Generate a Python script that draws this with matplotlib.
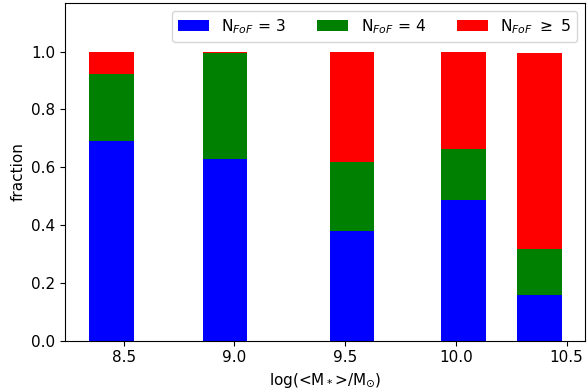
import matplotlib
matplotlib.use("Agg")
import matplotlib.pyplot as plt
import numpy as np

mass_bins = [8.445, 8.957, 9.53, 10.035, 10.377]
frac_n3 = [0.691, 0.629, 0.380, 0.488, 0.158]
frac_n4 = [0.232, 0.367, 0.238, 0.174, 0.159]
frac_n5 = [0.077, 0.004, 0.382, 0.338, 0.680]

labels = [r'N$_{FoF}$ = 3', r'N$_{FoF}$ = 4', r'N$_{FoF}$ $\geq$ 5']
colors = ['blue', 'green', 'red']

plt.rcParams['font.size'] = 11

fig = plt.figure(figsize=(5.87, 3.92), dpi=100)
ax = fig.add_axes([0.111, 0.131, 0.886, 0.861])

x = np.array(mass_bins)
b1 = np.array(frac_n3)
b2 = np.array(frac_n4)
b3 = np.array(frac_n5)
w = 0.2
ax.bar(x, b1, width=w, color=colors[0], label=labels[0])
ax.bar(x, b2, width=w, bottom=b1, color=colors[1], label=labels[1])
ax.bar(x, b3, width=w, bottom=b1 + b2, color=colors[2], label=labels[2])

ax.set_xlim(8.236, 10.584)
ax.set_ylim(0, 1.168)
ax.set_xticks([8.5, 9.0, 9.5, 10.0, 10.5])
ax.set_yticks([0.0, 0.2, 0.4, 0.6, 0.8, 1.0])
ax.set_xlabel(r'log(<M$_*$>/M$_{\odot}$)')
ax.set_ylabel('fraction')
ax.legend(loc='upper right', ncol=3, fontsize=11.2)

fig.savefig('out.png', dpi=100)
